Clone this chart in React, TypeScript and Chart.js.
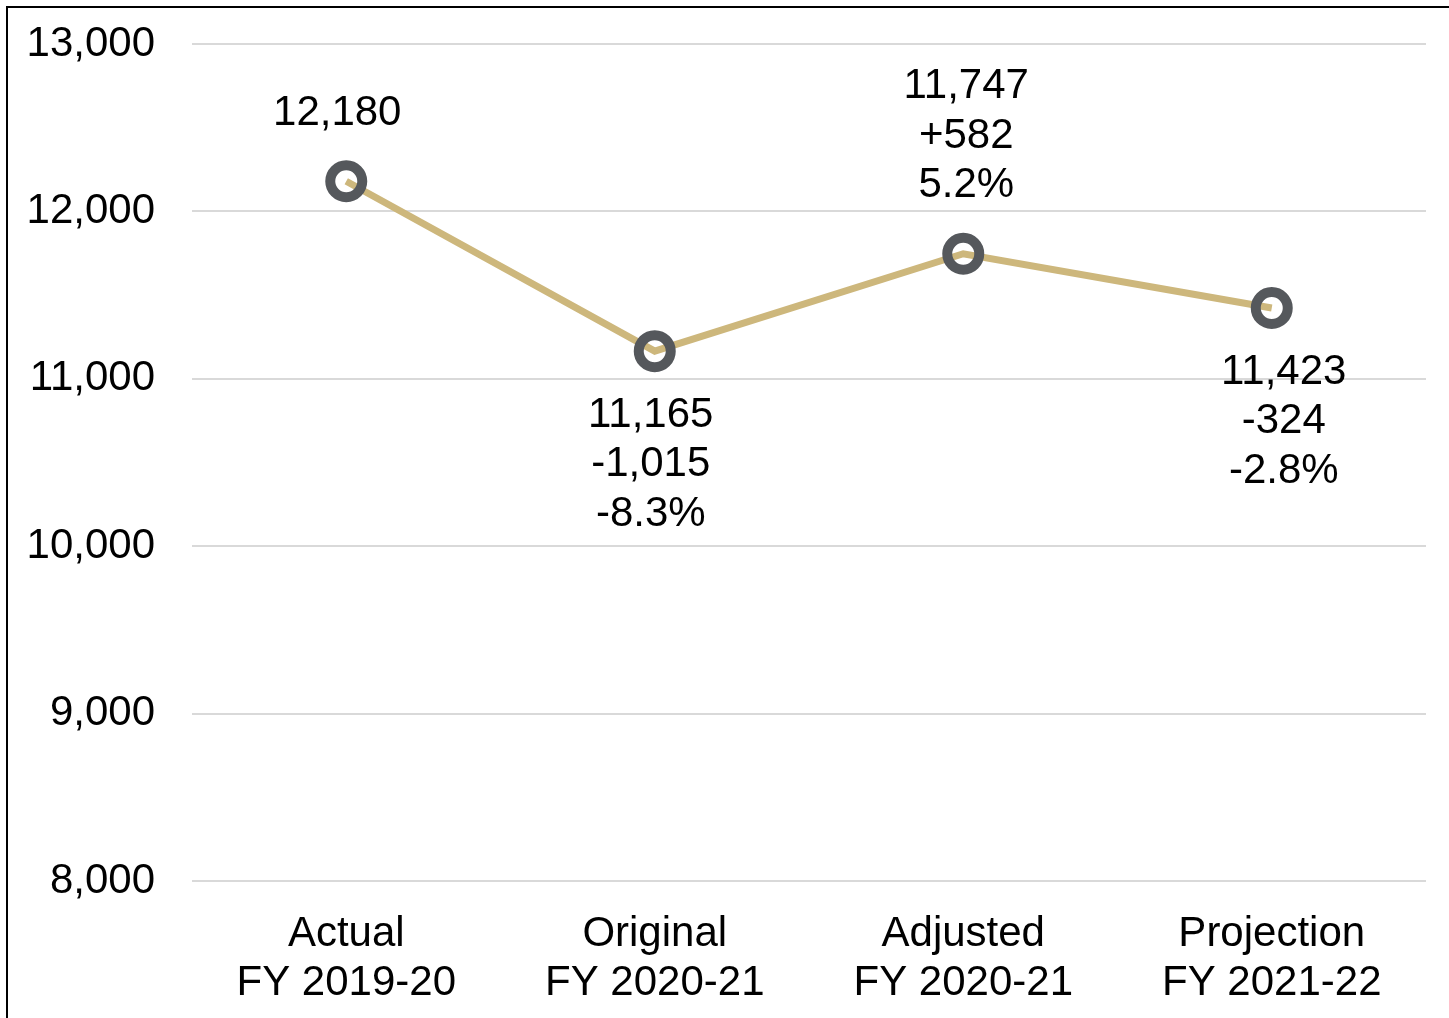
import React, { useEffect, useRef } from "react";
import { Chart, registerables } from "chart.js";

Chart.register(...registerables);

// Fiscal-year headcount series
const categories: string[][] = [
  ["Actual", "FY 2019-20"],
  ["Original", "FY 2020-21"],
  ["Adjusted", "FY 2020-21"],
  ["Projection", "FY 2021-22"],
];
const values: number[] = [12180, 11165, 11747, 11423];
const changeLabels: string[] = ["", "-1,015", "+582", "-324"];
const percentLabels: string[] = ["", "-8.3%", "5.2%", "-2.8%"];
const yTicks = { min: 8000, max: 13000, step: 1000 };

const FONT = "'Liberation Sans', Arial, Helvetica, sans-serif";
const LINE_COLOR = "#CDB77C";
const MARKER_COLOR = "#55585C";
const GRID_COLOR = "#D9D9D9";

const fmt = (n: number) => n.toLocaleString("en-US");

// Stacked value / change / percent labels beside each marker
const pointLabels = {
  id: "pointLabels",
  afterDatasetsDraw(chart: any, _args: any, opts: any) {
    const { ctx } = chart;
    const meta = chart.getDatasetMeta(0);
    const lh = opts.lineHeight;
    ctx.save();
    ctx.font = `${opts.size}px ${FONT}`;
    ctx.fillStyle = "#000";
    ctx.textAlign = "center";
    ctx.textBaseline = "middle";
    meta.data.forEach((pt: any, i: number) => {
      const lines = [fmt(values[i]), changeLabels[i], percentLabels[i]].filter((s) => s !== "");
      const x = pt.x + (opts.dx[i] || 0);
      const place = opts.place[i];
      lines.forEach((line, j) => {
        const y =
          place === "above"
            ? pt.y - opts.gapAbove - (lines.length - 1 - j) * lh
            : pt.y + opts.gapBelow + j * lh;
        ctx.fillText(line, x, y);
      });
    });
    ctx.restore();
  },
};

export default function App() {
  const canvasRef = useRef<HTMLCanvasElement | null>(null);

  useEffect(() => {
    if (!canvasRef.current) return;
    Chart.defaults.font.family = FONT;
    Chart.defaults.color = "#000";
    const chart = new Chart(canvasRef.current, {
      type: "line",
      data: {
        labels: categories,
        datasets: [
          {
            data: values,
            borderColor: LINE_COLOR,
            borderWidth: 7,
            tension: 0,
            pointRadius: 16,
            pointBorderWidth: 10,
            pointBorderColor: MARKER_COLOR,
            pointBackgroundColor: "rgba(0,0,0,0)",
            pointHoverRadius: 16,
          },
        ],
      },
      options: {
        responsive: false,
        animation: false,
        devicePixelRatio: 1,
        layout: { autoPadding: false, padding: { top: 36, right: 23, left: 0, bottom: 0 } },
        plugins: {
          legend: { display: false },
          tooltip: { enabled: false },
          pointLabels: {
            size: 42,
            lineHeight: 49.5,
            gapAbove: 68,
            gapBelow: 64,
            place: ["above", "below", "above", "below"],
            dx: [-9, -4, 3, 12],
          },
        } as any,
        scales: {
          x: {
            offset: true,
            grid: { display: false, drawTicks: false },
            border: { display: false },
            ticks: {
              padding: 29,
              font: { size: 42, lineHeight: 1.17 },
              color: "#000",
              maxRotation: 0,
              autoSkip: false,
            },
            afterFit: (scale: any) => {
              scale.height = 137;
            },
          },
          y: {
            min: yTicks.min,
            max: yTicks.max,
            grid: { color: GRID_COLOR, lineWidth: 2, drawTicks: false },
            border: { display: false },
            ticks: {
              stepSize: yTicks.step,
              padding: 37,
              font: { size: 42 },
              color: "#000",
              callback: (v: any) => fmt(Number(v)),
            },
            afterFit: (scale: any) => {
              scale.width = 184;
              scale.paddingTop = 0;
              scale.paddingBottom = 0;
            },
          },
        },
      },
      plugins: [pointLabels],
    });
    return () => chart.destroy();
  }, []);

  return (
    <div
      style={{
        position: "fixed",
        left: 0,
        top: 0,
        width: "100vw",
        height: "100vh",
        overflow: "hidden",
        background: "#fff",
      }}
    >
      <div
        style={{
          position: "absolute",
          left: 6,
          top: 6,
          width: 1470,
          height: 1040,
          border: "2px solid #000",
          background: "#fff",
        }}
      >
        <canvas
          ref={canvasRef}
          width={1441}
          height={1010}
          style={{ display: "block", width: 1441, height: 1010 }}
        />
      </div>
    </div>
  );
}
